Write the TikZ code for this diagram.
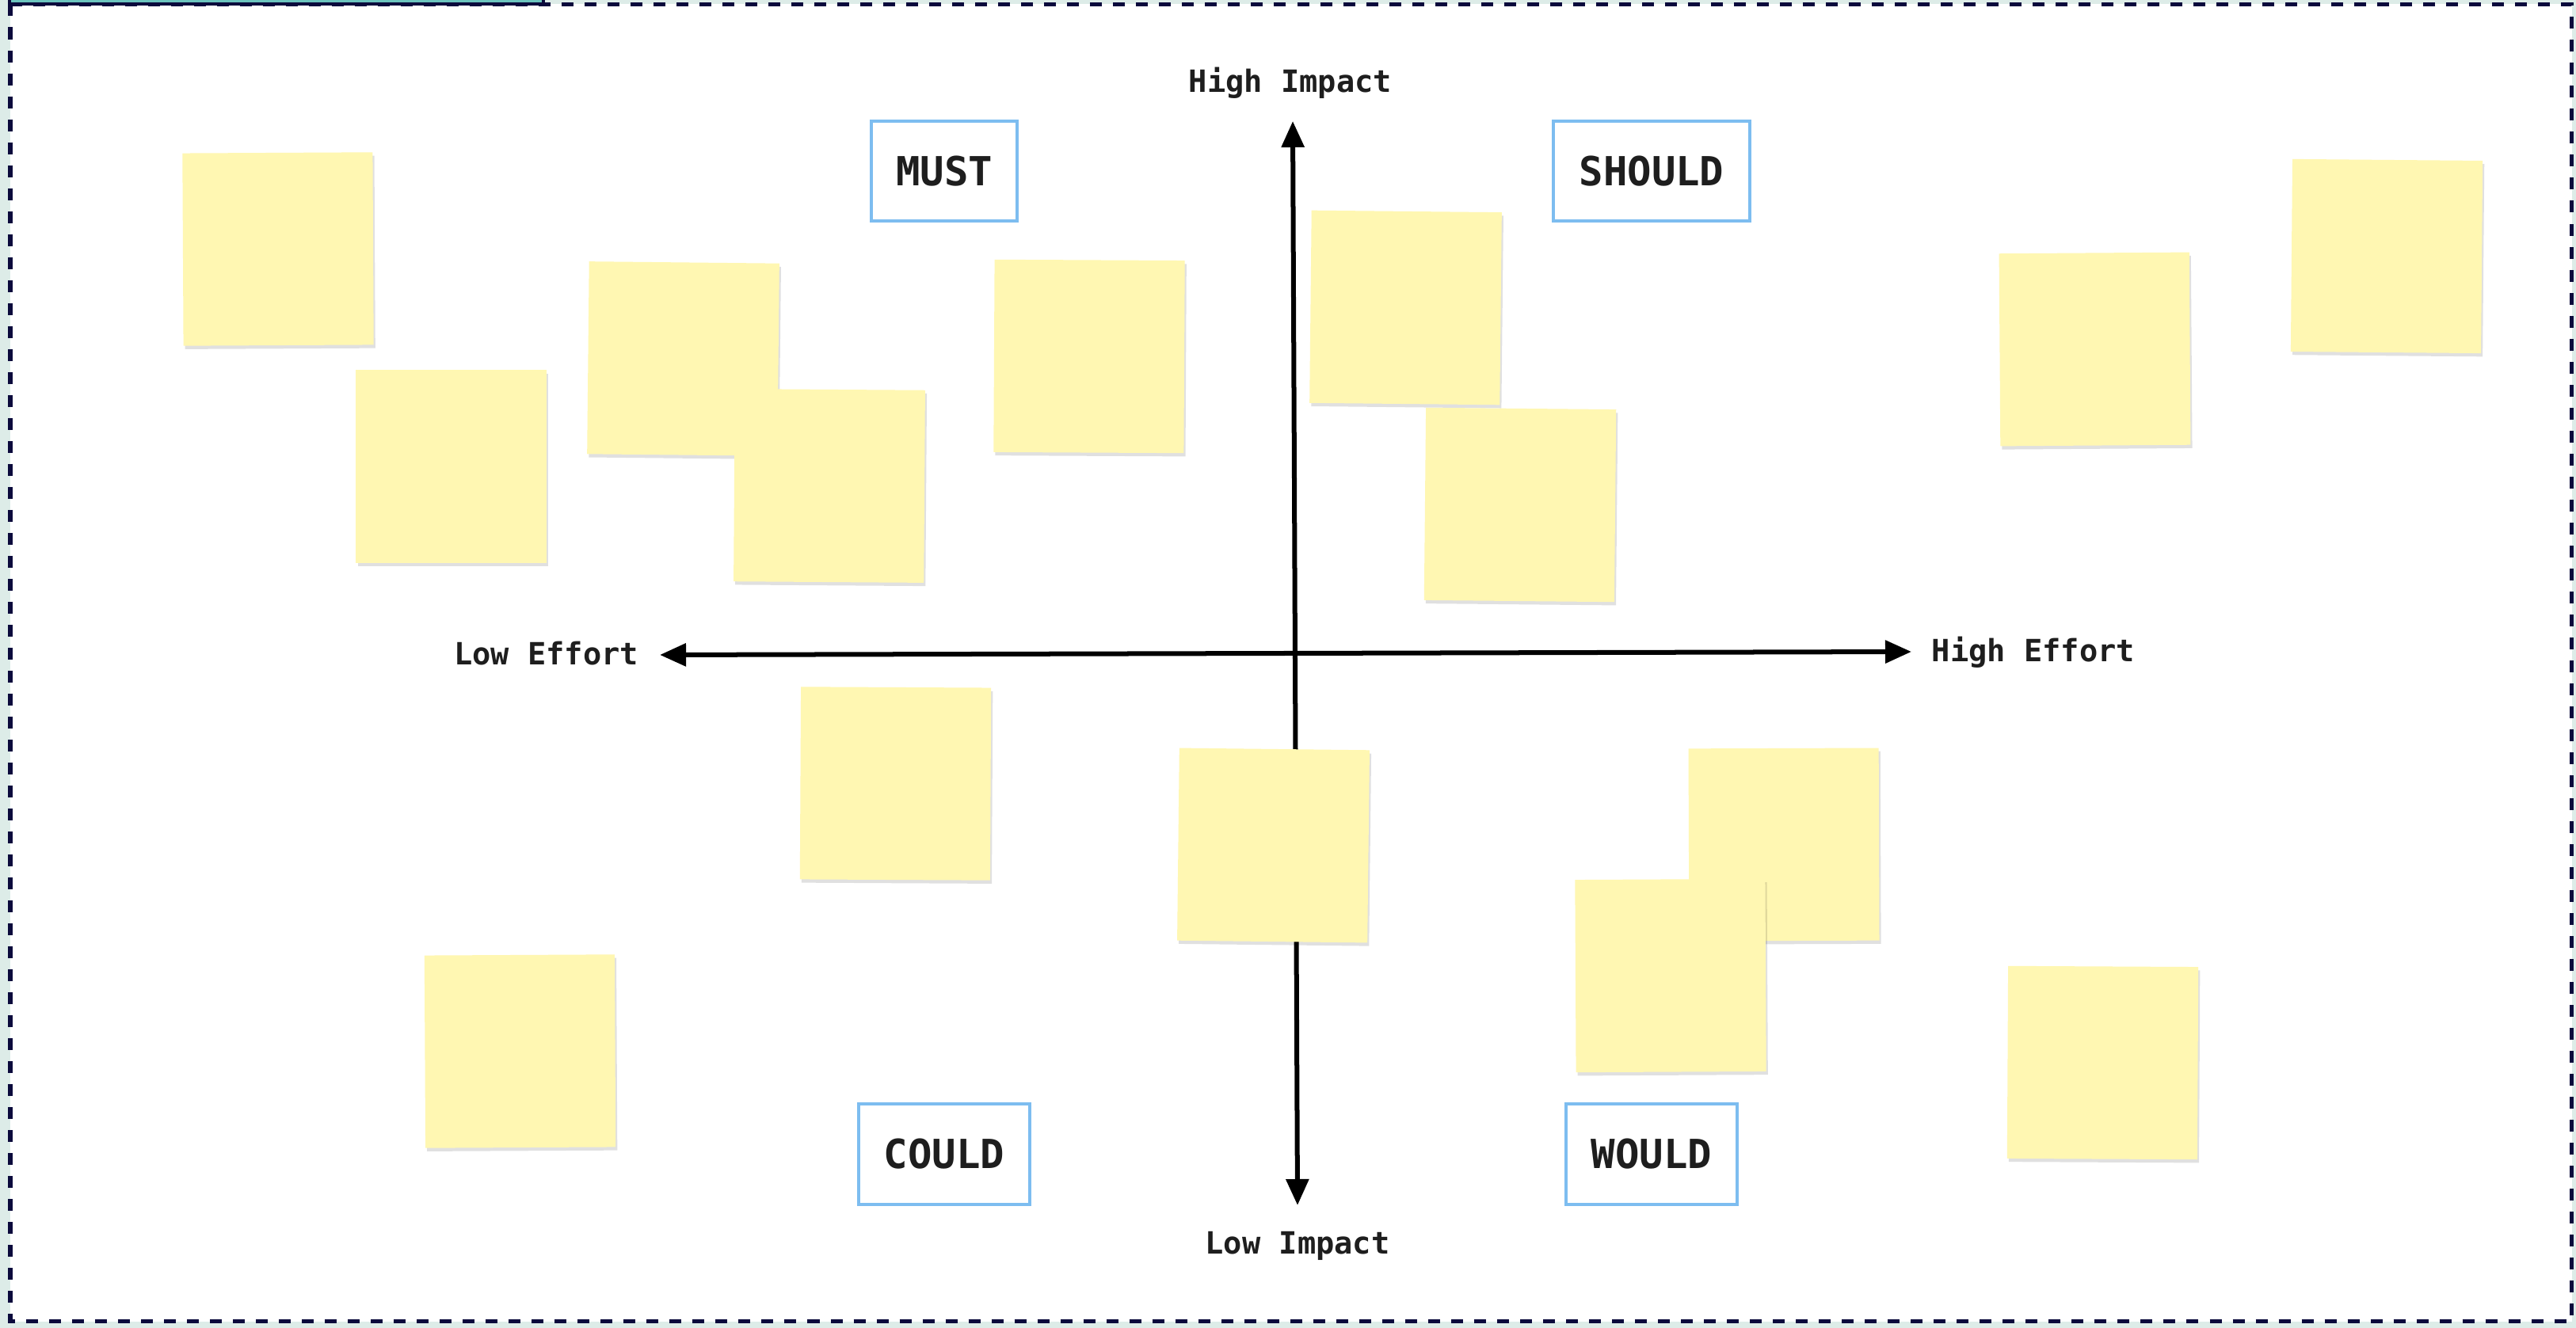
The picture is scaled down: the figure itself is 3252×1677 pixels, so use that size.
\documentclass[tikz,border=0pt]{standalone}
\usepackage{fontspec}
\setmonofont{DejaVu Sans Mono}
\usetikzlibrary{arrows.meta,shadows}
\definecolor{mint}{HTML}{DDECE8}
\definecolor{navy}{HTML}{0B0A3C}
\definecolor{tabteal}{HTML}{6CC4BE}
\definecolor{sticky}{HTML}{FFF7B2}
\definecolor{boxblue}{HTML}{7DBDF0}
\definecolor{ink}{HTML}{1E1E1E}
\begin{document}
\begin{tikzpicture}[x=0.01cm,y=-0.01cm,
  note/.style={fill=sticky, minimum width=2.4cm, minimum height=2.43cm, inner sep=0pt,
    drop shadow={shadow xshift=0.6pt, shadow yshift=-1.2pt, opacity=0.12, fill=black}},
  quad/.style={draw=boxblue, line width=0.04cm, fill=white, text=ink,
    font=\ttfamily\bfseries\fontsize{14.4pt}{16pt}\selectfont, inner sep=0pt},
  axlabel/.style={text=ink, font=\ttfamily\bfseries\fontsize{11pt}{13pt}\selectfont, inner sep=0pt, anchor=base},
  axis/.style={line width=0.06cm, {Triangle[length=0.33cm,width=0.28cm]}-{Triangle[length=0.33cm,width=0.28cm]}}
]
\useasboundingbox (0,0) rectangle (3252,1677);
% background and frame
\fill[mint] (0,0) rectangle (3252,1677);
\draw[navy, fill=white, line width=0.05cm, dash pattern=on 0.15cm off 0.14cm] (13,5.5) rectangle (3246.5,1668.5);
\draw[navy, fill=tabteal, line width=0.035cm] (12,-20) rectangle (686,5);

% axes
\coordinate (vt) at (1632,153);
\coordinate (vb) at (1638,1522);
\coordinate (hl) at (833,827);
\coordinate (hr) at (2413,823);
\draw[axis] (vt) -- (vb);
\draw[axis] (hl) -- (hr);

% axis labels
\node[axlabel] (hi) at (1629,117) {High Impact};
\node[axlabel] (li) at (1638,1583) {Low Impact};
\node[axlabel] (le) at (689.5,840) {Low Effort};
\node[axlabel] (he) at (2567,836) {High Effort};

% quadrant labels
\node[quad, minimum width=1.84cm, minimum height=1.26cm] (must) at (1192,216) {MUST};
\node[quad, minimum width=2.48cm, minimum height=1.26cm] (should) at (2085,216) {SHOULD};
\node[quad, minimum width=2.16cm, minimum height=1.27cm] (could) at (1192,1457.5) {COULD};
\node[quad, minimum width=2.16cm, minimum height=1.27cm] (would) at (2085,1457.5) {WOULD};

% sticky notes
\node[note, rotate=0.3]  (n1)  at (351,314.5) {};
\node[note, rotate=0]    (n2)  at (569.5,589) {};
\node[note, rotate=-0.6] (n3)  at (862.5,453) {};
\node[note, rotate=-0.4] (n4)  at (1047,613.5) {};
\node[note, rotate=-0.3] (n5)  at (1375,450) {};
\node[note, rotate=-0.6] (n6)  at (1774.5,388.5) {};
\node[note, rotate=-0.55](n7)  at (1919,637.5) {};
\node[note, rotate=0.4]  (n8)  at (2644.5,441) {};
\node[note, rotate=-0.5] (n9)  at (3013,323.5) {};
\node[note, rotate=-0.3] (n10) at (1130.5,989.5) {};
\node[note, rotate=-0.65](n11) at (1607.5,1067.5) {};
\node[note, rotate=0.2]  (n12) at (2252,1066.5) {};
\node[note, rotate=0.3]  (n13) at (2109,1232) {};
\node[note, rotate=0.3]  (n14) at (656.5,1327.5) {};
\node[note, rotate=-0.3] (n15) at (2654.5,1342) {};
\end{tikzpicture}
\end{document}
